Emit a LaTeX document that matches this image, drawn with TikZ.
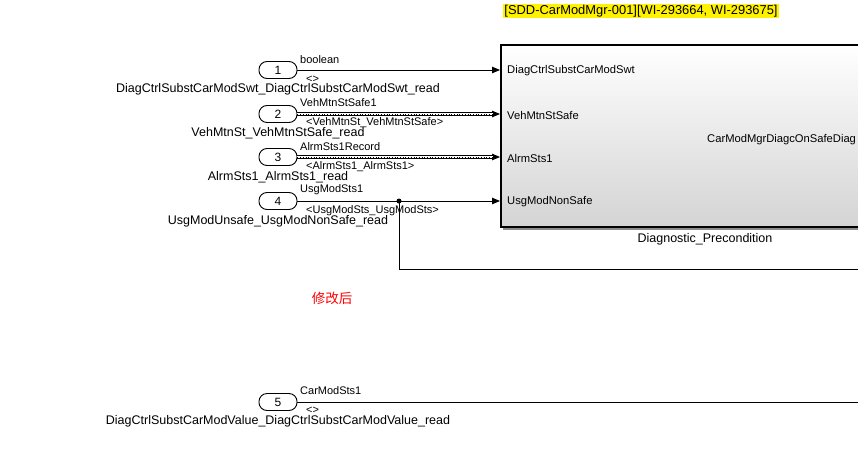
\documentclass[tikz,border=0pt]{standalone}
\usepackage{fontspec}
\setmainfont{Liberation Sans}
\newfontfamily\cjk{Noto Sans CJK SC}
\usetikzlibrary{arrows.meta,shadows}
\tikzset{
  port/.style={draw, line width=0.9pt, rounded corners=8pt, minimum width=38pt, minimum height=17pt, inner sep=0pt, font=\fontsize{12}{14}\selectfont, fill=white},
  sig/.style={line width=0.8pt, -{Triangle[length=8pt,width=6.5pt]}},
  plainsig/.style={line width=0.8pt},
  busouter/.style={double=white, double distance=1.8pt, line width=0.7pt},
  businner/.style={dotted, line width=0.7pt},
  siglbl/.style={anchor=west, inner sep=0pt, font=\fontsize{11}{13}\selectfont},
  portname/.style={inner sep=0pt, font=\fontsize{12.5}{14}\selectfont},
  blklbl/.style={anchor=west, inner sep=0pt, font=\fontsize{11.2}{13}\selectfont},
  block/.style={draw, line width=2pt, minimum width=408pt, minimum height=182pt, inner sep=0pt, top color=white, bottom color=black!17, drop shadow={shadow xshift=2pt, shadow yshift=-3pt, fill=black!45, opacity=1}},
  dot/.style={circle, fill=black, inner sep=0pt, minimum size=5pt}
}
\begin{document}
\begin{tikzpicture}[x=1pt,y=-1pt]
\useasboundingbox (0,0) rectangle (858,455);
\clip (0,0) rectangle (858,455);

% annotation
\node[fill=yellow, inner sep=1pt, font=\fontsize{12.9}{14}\selectfont] (ann) at (641,11) {[SDD-CarModMgr-001][WI-293664, WI-293675]};

% block
\node[block] (blk) at (705,136) {};
\node[portname, anchor=north] (blkname) at ([yshift=-5pt]blk.south) {Diagnostic\_Precondition};
\node[blklbl] (i1) at (507,71) {DiagCtrlSubstCarModSwt};
\node[blklbl] (i2) at (507,115) {VehMtnStSafe};
\node[blklbl] (i3) at (507,158) {AlrmSts1};
\node[blklbl] (i4) at (507,202) {UsgModNonSafe};
\node[blklbl] (o1) at (707,140) {CarModMgrDiagcOnSafeDiag};

% ports
\node[port] (p1) at (278,70) {1};
\node[port] (p2) at (278,114) {2};
\node[port] (p3) at (278,157) {3};
\node[port] (p4) at (278,201) {4};
\node[port] (p5) at (278,402) {5};

\node[portname] (n1) at (278,89.5) {DiagCtrlSubstCarModSwt\_DiagCtrlSubstCarModSwt\_read};
\node[portname] (n2) at (278,133.5) {VehMtnSt\_VehMtnStSafe\_read};
\node[portname] (n3) at (278,177.5) {AlrmSts1\_AlrmSts1\_read};
\node[portname] (n4) at (278,221.5) {UsgModUnsafe\_UsgModNonSafe\_read};
\node[portname] (n5) at (278,421.5) {DiagCtrlSubstCarModValue\_DiagCtrlSubstCarModValue\_read};

% signal labels
\node[siglbl] (s1a) at (300,60) {boolean};
\node[siglbl] (s1b) at (306,79) {<>};
\node[siglbl] (s2a) at (300,103) {VehMtnStSafe1};
\node[siglbl] (s2b) at (306,123) {<VehMtnSt\_VehMtnStSafe>};
\node[siglbl] (s3a) at (300,147) {AlrmSts1Record};
\node[siglbl] (s3b) at (306,167) {<AlrmSts1\_AlrmSts1>};
\node[siglbl] (s4a) at (300,190) {UsgModSts1};
\node[siglbl] (s4b) at (306,211) {<UsgModSts\_UsgModSts>};
\node[siglbl] (s5a) at (300,391) {CarModSts1};
\node[siglbl] (s5b) at (306,410) {<>};

% connectors
\draw[sig] (p1.east) -- (p1.east -| blk.west);
\draw[sig] (p2.east) -- (p2.east -| blk.west);
\draw[busouter, shorten >=7pt] (p2.east) -- (p2.east -| blk.west);
\draw[businner, shorten >=7pt] (p2.east) -- (p2.east -| blk.west);
\draw[sig] (p3.east) -- (p3.east -| blk.west);
\draw[busouter, shorten >=7pt] (p3.east) -- (p3.east -| blk.west);
\draw[businner, shorten >=7pt] (p3.east) -- (p3.east -| blk.west);
\draw[sig] (p4.east) -- (p4.east -| blk.west);

\node[dot] (br) at (399,201) {};
\coordinate (out4) at (870,269);
\draw[plainsig] (br.center) |- (out4);

\coordinate (out5) at (870,402);
\draw[plainsig] (p5.east) -- (out5);

% note
\node[text=red, inner sep=0pt, font=\cjk\fontsize{13.5}{15}\selectfont] (note) at (332,298) {修改后};
\end{tikzpicture}
\end{document}
